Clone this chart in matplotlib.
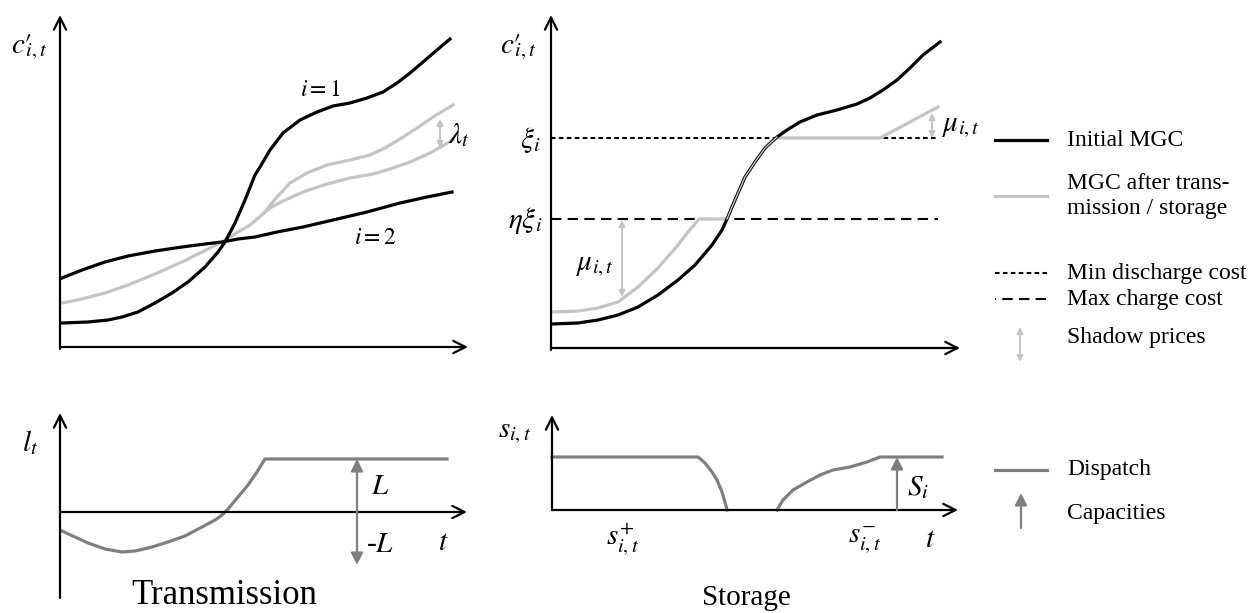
import matplotlib.pyplot as plt

plt.rcParams['font.family'] = ['Liberation Serif', 'DejaVu Serif']
plt.rcParams['mathtext.fontset'] = 'stix'

# ---- data (schematic units) ----
# transmission panel, cost curves
t_reg1 = [2, 28, 48, 62, 78, 95, 112, 128, 145, 158, 165, 175, 185, 195, 200, 210, 223, 240,
          257, 273, 290, 307, 323, 337, 350, 363, 377, 390]
c_reg1 = [24, 25, 27, 30, 35, 44, 54, 65, 80, 95, 105, 124, 147, 172, 180, 197, 214, 227,
          235, 241, 244, 249, 255, 264, 274, 285, 297, 308]
t_reg2 = [2, 22, 45, 68, 95, 122, 145, 162, 178, 195, 217, 243, 273, 307, 340, 367, 392]
c_reg2 = [69, 77, 85, 91, 96, 100, 103, 105, 108, 110, 115, 120, 127, 135, 144, 150, 155]
t_after_low = [2, 22, 45, 68, 95, 122, 142, 162, 178, 190, 203, 210, 223, 243, 267, 290, 313,
               330, 350, 370, 393]
c_after_low = [44, 48, 54, 62, 73, 85, 95, 105, 115, 122, 133, 139, 146, 155, 163, 169, 173,
               178, 185, 194, 207]
t_after_up = [203, 217, 230, 247, 267, 290, 310, 325, 340, 357, 373, 393]
c_after_up = [133, 150, 164, 174, 182, 187, 192, 199, 208, 219, 230, 242]
lam_t = 380
lam_span = [199, 228]

# storage panel, cost curves
t_init = [1, 27, 47, 67, 87, 107, 127, 144, 161, 171, 176, 184, 194, 204, 214, 226, 236, 249,
          266, 286, 306, 319, 332, 346, 359, 372, 389]
c_init = [24, 25, 28, 33, 41, 53, 68, 83, 103, 118, 129, 148, 171, 186, 200, 211, 218, 226,
          233, 238, 244, 250, 258, 268, 280, 293, 306]
t_stor = [1, 27, 47, 67, 87, 107, 127, 137, 148, 176, 184, 194, 204, 214, 222, 226, 329, 387]
c_stor = [36, 37, 40, 46, 61, 80, 103, 116, 129, 129, 148, 171, 186, 200, 208, 210, 210, 241]
xi = 210
eta_xi = 129
mu_low_t, mu_low_span = 71, [128, 51]
mu_high_t, mu_high_span = 381, [210, 235]

# dispatch
t_line = [2, 15, 28, 45, 62, 75, 92, 108, 125, 142, 155, 162, 168, 178, 188, 197, 205, 387]
l_line = [-19, -25, -31, -37, -40, -39, -35, -30, -24, -15, -8, -3, 3, 15, 27, 40, 53, 53]
line_cap_t, line_cap = 297, 53
t_dis = [0, 146, 153, 160, 165, 170, 173, 175]
s_dis = [53, 53, 47, 38, 30, 18, 8, 0]
t_cha = [225, 231, 241, 255, 268, 281, 298, 315, 328, 390]
s_cha = [0, 10, 20, 28, 35, 40, 43, 48, 53, 53]
stor_cap_t, stor_cap = 345, 53

BLACK = 'black'
LIGHT = '#c4c4c4'
DARK = '#7f7f7f'

W, H = 1254, 613
fig = plt.figure(figsize=(W / 100, H / 100), dpi=100)


def panel(ox, oy, left, right, top, bottom):
    # axes over a pixel box, data origin at pixel (ox, oy), 1 unit = 1 px
    ax = fig.add_axes([left / W, 1 - bottom / H, (right - left) / W, (bottom - top) / H])
    ax.set_xlim(left - ox, right - ox)
    ax.set_ylim(oy - bottom, oy - top)
    ax.axis('off')
    return ax


def axis_arrow(ax, p0, p1):
    ax.annotate('', xy=p1, xytext=p0,
                arrowprops=dict(arrowstyle='->', lw=1.6, color=BLACK, mutation_scale=22,
                                shrinkA=0, shrinkB=0))


def shadow(ax, x, y0, y1):
    ax.annotate('', xy=(x, y1), xytext=(x, y0),
                arrowprops=dict(arrowstyle='<|-|>', lw=1.4, color=LIGHT, mutation_scale=9,
                                shrinkA=0, shrinkB=0))


def capacity(ax, x, y0, y1):
    ax.annotate('', xy=(x, y1), xytext=(x, y0),
                arrowprops=dict(arrowstyle='-|>', lw=1.6, color=DARK, mutation_scale=18,
                                shrinkA=0, shrinkB=0))


MATH = 21
LW = 2.3
MIN_LS = (0, (2.2, 1.6))
MAX_LS = (0, (5, 3))
CPRIME = r"$c\prime_{\!\!\!i,t}$"

# top left: transmission costs
ax1 = panel(60, 347, 0, 480, 0, 380)
axis_arrow(ax1, (0, -2), (0, 332))
axis_arrow(ax1, (0, 0), (408, 0))
ax1.plot(t_after_low, c_after_low, color=LIGHT, lw=LW, solid_joinstyle='round')
ax1.plot(t_after_up, c_after_up, color=LIGHT, lw=LW, solid_joinstyle='round')
ax1.plot(t_reg1, c_reg1, color=BLACK, lw=LW, solid_joinstyle='round')
ax1.plot(t_reg2, c_reg2, color=BLACK, lw=LW, solid_joinstyle='round')
shadow(ax1, lam_t, lam_span[0], lam_span[1])
ax1.text(-31, 300, CPRIME, fontsize=MATH, ha='center', va='center')
ax1.text(260, 257, r"$i = 1$", fontsize=17, ha='center', va='center')
ax1.text(315, 108, r"$i = 2$", fontsize=17, ha='center', va='center')
ax1.text(399, 212, r"$\lambda_t$", fontsize=MATH, ha='center', va='center')

# top right: storage costs
ax2 = panel(551, 348, 480, 980, 0, 380)
axis_arrow(ax2, (0, -2), (0, 333))
axis_arrow(ax2, (0, 0), (409, 0))
ax2.plot([0, 387], [xi, xi], color=BLACK, lw=1.5, linestyle=MIN_LS)
ax2.plot([0, 387], [eta_xi, eta_xi], color=BLACK, lw=1.5, linestyle=MAX_LS)
ax2.plot(t_stor, c_stor, color=LIGHT, lw=LW, solid_joinstyle='round')
ax2.plot(t_init, c_init, color=BLACK, lw=LW, solid_joinstyle='round')
ax2.plot(t_init[10:16], c_init[10:16], color=LIGHT, lw=1.0)
shadow(ax2, mu_low_t, mu_low_span[0], mu_low_span[1])
shadow(ax2, mu_high_t, mu_high_span[0], mu_high_span[1])
ax2.text(-33, 301, CPRIME, fontsize=MATH, ha='center', va='center')
ax2.text(-21, 208, r"$\xi_i$", fontsize=MATH, ha='center', va='center')
ax2.text(-26, 127, r"$\eta\xi_i$", fontsize=MATH, ha='center', va='center')
ax2.text(44, 82, r"$\mu_{i,t}$", fontsize=MATH, ha='center', va='center')
ax2.text(410, 221, r"$\mu_{i,t}$", fontsize=MATH, ha='center', va='center', clip_on=False)

# bottom left: line flow
ax3 = panel(60, 512, 0, 480, 380, 613)
axis_arrow(ax3, (0, -86), (0, 99))
axis_arrow(ax3, (0, 0), (407, 0))
ax3.plot(t_line, l_line, color=DARK, lw=LW, solid_joinstyle='round')
capacity(ax3, line_cap_t, 0, line_cap)
capacity(ax3, line_cap_t, 0, -line_cap)
ax3.text(-30, 69, r"$l_t$", fontsize=MATH, ha='center', va='center')
ax3.text(320, 25, r"$L$", fontsize=MATH, ha='center', va='center')
ax3.text(320, -33, r"-$L$", fontsize=MATH, ha='center', va='center')
ax3.text(383, -31, r"$t$", fontsize=MATH, ha='center', va='center')
ax3.text(164, -83, "Transmission", fontsize=25, ha='center', va='center')

# bottom right: storage dispatch
ax4 = panel(552, 510, 480, 980, 380, 613)
axis_arrow(ax4, (0, 0), (0, 95))
axis_arrow(ax4, (0, 0), (406, 0))
ax4.plot(t_dis, s_dis, color=DARK, lw=LW, solid_joinstyle='round')
ax4.plot(t_cha, s_cha, color=DARK, lw=LW, solid_joinstyle='round')
capacity(ax4, stor_cap_t, 0, stor_cap)
ax4.text(-37, 77, r"$s_{i,t}$", fontsize=MATH, ha='center', va='center')
ax4.text(366, 22, r"$S_i$", fontsize=MATH, ha='center', va='center')
ax4.text(71, -30, r"$s^{+}_{i,t}$", fontsize=MATH, ha='center', va='center')
ax4.text(313, -30, r"$s^{-}_{i,t}$", fontsize=MATH, ha='center', va='center')
ax4.text(378, -30, r"$t$", fontsize=MATH, ha='center', va='center')
ax4.text(194, -88, "Storage", fontsize=21, ha='center', va='center')

# legend, in pixel coordinates
axl = fig.add_axes([980 / W, 0, 274 / W, 1])
axl.set_xlim(980, 1254)
axl.set_ylim(613, 0)
axl.axis('off')
x0, x1, xt = 995, 1047, 1067
axl.plot([x0, x1], [140, 140], color=BLACK, lw=LW)
axl.plot([x0, x1], [196, 196], color=LIGHT, lw=LW)
axl.plot([x0, x1], [273, 273], color=BLACK, lw=1.5, linestyle=MIN_LS)
axl.plot([x0, x1], [299, 299], color=BLACK, lw=1.5, linestyle=(4.5, (5, 3)))
shadow(axl, 1020, 362, 327)
axl.plot([x0, x1], [470, 470], color=DARK, lw=LW)
capacity(axl, 1021, 528, 493)
FS = 17
axl.text(xt, 140, "Initial MGC", fontsize=FS, va='center')
axl.text(xt, 196, "MGC after trans-\nmission / storage", fontsize=FS, va='center', linespacing=1.3)
axl.text(xt, 273, "Min discharge cost", fontsize=FS, va='center')
axl.text(xt, 299, "Max charge cost", fontsize=FS, va='center')
axl.text(xt, 338, "Shadow prices", fontsize=FS, va='center')
axl.text(xt, 470, "Dispatch", fontsize=FS, va='center')
axl.text(xt, 513, "Capacities", fontsize=FS, va='center')

fig.savefig('out.png', dpi=100)
